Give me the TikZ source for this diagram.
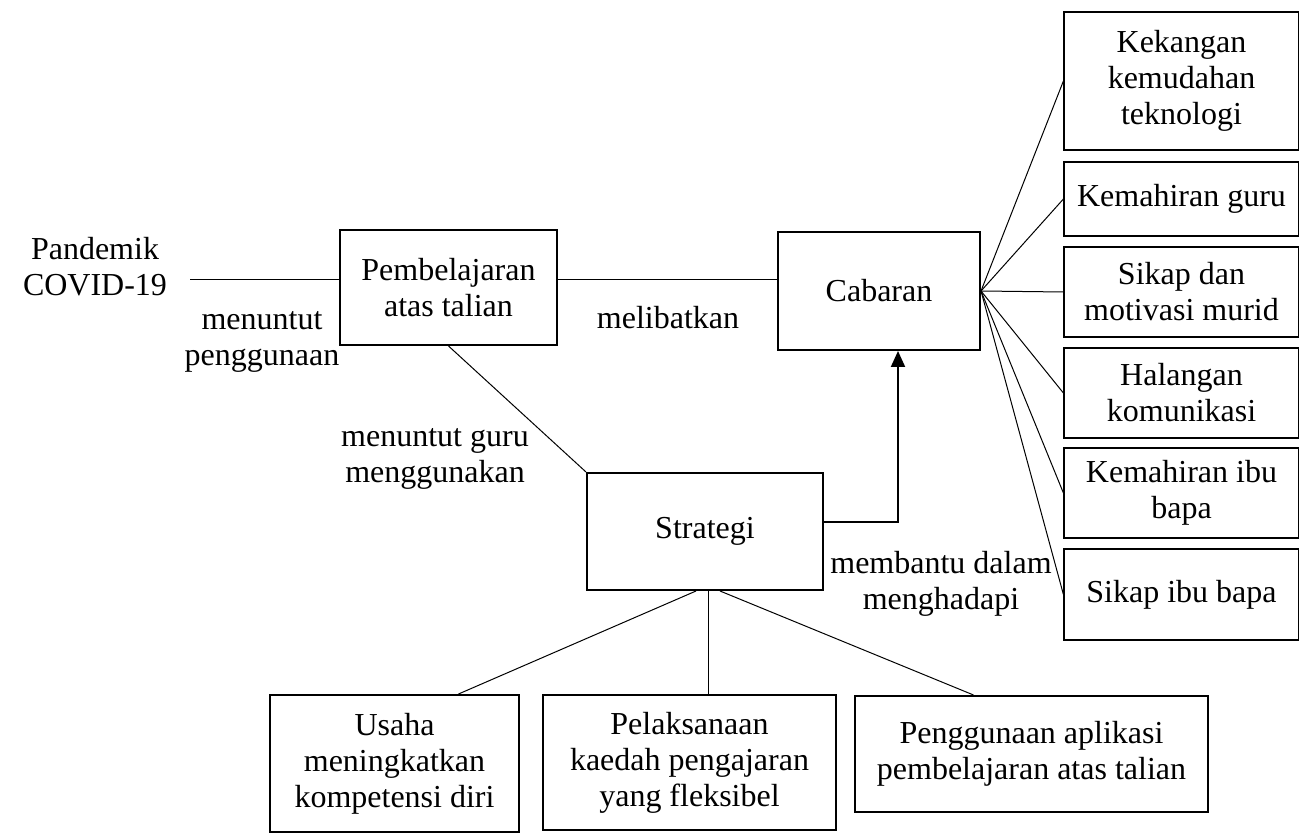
\documentclass[tikz,border=0pt]{standalone}
\usepackage{fontspec}
\setmainfont{Liberation Serif}
\usetikzlibrary{arrows.meta}

\tikzstyle{kotak}= [rectangle,draw,black,line width=1pt,align=center,inner sep=0pt]
\tikzstyle{cabar}= [rectangle,draw,black,line width=0.6pt,align=center,inner sep=0pt,minimum width=117.5pt]
\tikzstyle{teks}= [align=center,inner sep=0pt]
\tikzstyle{garis}= [black,line width=0.5pt]

\begin{document}
\begin{tikzpicture}[x=0.5pt,y=-0.5pt,font=\fontsize{16}{18}\selectfont]
		\useasboundingbox (0,0) rectangle (1299,833);

		\node (a) at (95,267) [teks] {Pandemik\\COVID-19};
		\coordinate (a1) at (190,280);

		\node (b) at (448.5,287.5) [kotak,minimum width=108.5pt,minimum height=57.5pt] {Pembelajaran\\atas talian};
		\node (c) at (879,291) [kotak,minimum width=101pt,minimum height=59pt] {Cabaran};
		\node (s) at (705,531.5) [kotak,minimum width=118pt,minimum height=58.5pt] {Strategi};

		\node at (262,342) [teks] {menuntut\\penggunaan};
		\node at (668,318) [teks] {melibatkan};
		\node at (435,459) [teks] {menuntut guru\\menggunakan};
		\node at (941,584) [teks] {membantu dalam\\menghadapi};

		\node (c1) at (1181.5,81) [cabar,minimum height=69pt] {Kekangan\\kemudahan\\teknologi};
		\node (c2) at (1181.5,199) [cabar,minimum height=37pt] {Kemahiran guru};
		\node (c3) at (1181.5,292) [cabar,minimum height=45pt] {Sikap dan\\motivasi murid};
		\node (c4) at (1181.5,393) [cabar,minimum height=45pt] {Halangan\\komunikasi};
		\node (c5) at (1181.5,493) [cabar,minimum height=45pt] {Kemahiran ibu\\bapa};
		\node (c6) at (1181.5,594.5) [cabar,minimum height=45.5pt] {Sikap ibu bapa};

		\node (s1) at (394.5,763.5) [kotak,minimum width=124.5pt,minimum height=68.5pt] {Usaha\\meningkatkan\\kompetensi diri};
		\node (s2) at (689.5,762.5) [kotak,minimum width=146.5pt,minimum height=67.5pt] {Pelaksanaan\\kaedah pengajaran\\yang fleksibel};
		\node (s3) at (1031.5,754) [kotak,minimum width=176.5pt,minimum height=58pt] {Penggunaan aplikasi\\pembelajaran atas talian};

		\path[garis] (a1) edge (b.west |- a1);
		\path[garis] (b.east |- a1) edge (c.west |- a1);
		\path[garis] (b.south) edge (s.north west);
		\draw[black,line width=1pt,-{Triangle[length=8pt,width=7pt]}] ([yshift=5pt]s.east) -| ([xshift=9.5pt]c.south);

		\foreach \n in {c1,c2,c3,c4,c5,c6}
			\path[garis] (c.east) edge (\n.west);

		\path[garis] ([xshift=-4.5pt]s.south) edge ([xshift=32pt]s1.north);
		\path[garis] ([xshift=1.5pt]s.south) edge ([xshift=1.5pt]s.south |- s2.north);
		\path[garis] ([xshift=7.5pt]s.south) edge ([xshift=-29pt]s3.north);

	\end{tikzpicture}
\end{document}
